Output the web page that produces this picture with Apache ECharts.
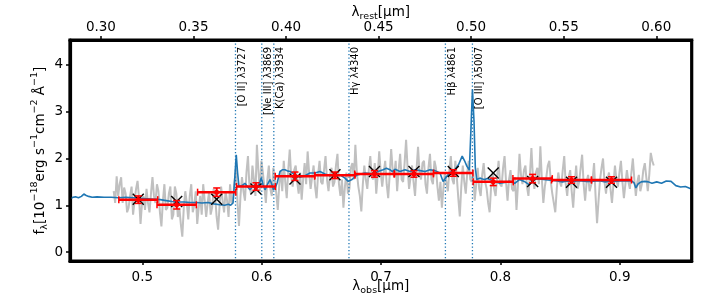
<!DOCTYPE html>
<html><head><meta charset="utf-8">
<script src="https://cdn.jsdelivr.net/npm/echarts@6/dist/echarts.min.js"></script>
<style>html,body{margin:0;padding:0;background:#fff}#c{width:706px;height:308px}</style>
</head><body><div id="c"></div>
<script>
// ---- data ----
const onePlusZ = 1.551;
const obsTicks = [0.5, 0.6, 0.7, 0.8, 0.9];
const restTicks = [0.30, 0.35, 0.40, 0.45, 0.50, 0.55, 0.60];
const fluxTicks = [0, 1, 2, 3, 4];
const obsRange = [0.4394, 0.9603];
const fluxRange = [-0.19, 4.53];

// observed (noisy) spectrum, sampled from greyStart in steps of greyStep (µm)
const greyStart = 0.476, greyStep = 0.00125;
const greyFlux = [
1.30,1.05,1.62,1.20,1.45,1.60,1.05,1.38,1.25,0.85,0.95,1.20,1.40,0.80,1.10,1.35,1.52,1.15,0.60,1.05,
1.20,0.90,1.35,1.05,0.85,1.25,1.60,1.20,1.05,1.45,1.30,0.85,0.55,1.10,1.45,0.90,0.95,1.25,1.40,0.70,
0.80,1.40,1.25,0.75,0.95,0.60,0.33,0.95,1.30,1.05,0.70,1.20,1.45,0.85,1.00,1.30,0.60,0.95,1.20,0.80,
1.45,1.10,0.75,1.05,1.30,0.80,0.95,1.35,1.20,0.75,0.48,1.00,1.40,1.10,0.85,1.30,1.10,0.75,1.45,1.05,
1.15,1.50,1.80,1.05,0.56,1.20,1.60,1.30,1.10,1.70,2.05,1.40,1.25,1.85,1.55,1.20,2.29,1.75,1.30,1.95,
1.70,1.40,1.05,1.55,1.85,1.35,1.20,1.80,1.55,1.25,0.90,1.45,1.75,1.30,1.95,1.50,1.15,1.75,2.19,1.60,
1.40,1.75,1.85,1.50,1.25,1.70,1.12,1.55,1.90,1.45,2.15,1.70,1.35,1.60,1.85,1.40,1.15,1.65,1.95,1.50,
1.45,1.75,2.05,1.55,1.30,1.65,1.80,1.40,1.50,1.85,2.10,1.45,1.20,1.55,0.95,1.40,1.70,1.25,1.35,1.80,
1.90,1.55,2.29,1.70,1.40,1.20,0.87,1.45,1.85,1.55,1.35,1.75,2.05,1.60,1.55,1.90,1.25,1.65,2.15,1.70,
1.40,1.70,1.95,1.45,1.15,1.65,2.20,1.75,1.60,1.95,1.30,1.75,2.10,1.55,1.50,1.90,2.40,1.80,1.35,1.60,
1.85,1.50,1.20,1.75,2.25,1.70,1.55,1.90,1.95,1.45,1.25,1.80,2.10,1.55,1.45,1.95,1.80,1.40,1.10,1.50,
0.95,1.35,1.70,1.50,1.30,1.75,2.05,1.55,1.45,1.95,1.60,1.15,0.76,1.40,1.85,1.50,1.25,1.70,1.95,1.55,
1.50,1.75,1.10,1.45,1.80,1.35,1.20,1.65,1.90,1.50,1.35,1.05,0.85,1.40,1.70,1.35,1.20,1.60,1.95,1.45,
1.40,1.80,2.05,1.50,1.10,1.55,1.75,1.35,1.30,1.60,0.90,1.45,2.10,1.65,1.45,1.75,1.85,1.40,1.20,1.65,
2.22,1.60,1.35,1.70,1.80,1.45,2.26,1.55,1.05,1.40,1.60,1.85,1.95,1.50,1.25,1.05,0.85,1.35,1.70,1.50,
1.40,1.75,2.05,1.45,1.20,1.60,1.75,1.30,0.95,1.45,1.85,1.35,1.50,1.80,2.08,1.45,1.10,1.50,1.65,1.30,
1.30,1.55,1.90,1.20,0.62,1.10,1.55,1.80,2.00,1.50,1.25,1.55,1.70,1.35,1.05,1.45,1.85,1.55,1.40,1.70,
1.95,1.50,1.15,1.45,1.75,1.50,1.35,1.70,2.00,1.55,1.20,1.50,1.65,1.30,1.45,1.75,1.90,1.60,1.30,1.65,2.12,1.95,1.85
];

// model spectrum (blue)
const modelWave = [0.4394,0.4420,0.4440,0.4465,0.4490,0.4510,0.4530,0.4550,0.4580,0.4620,0.4680,0.4740,0.4800,0.4860,0.4920,0.4980,0.5040,0.5100,0.5150,0.5200,0.5250,0.5300,0.5350,0.5400,0.5450,0.5500,0.5550,0.5600,0.5650,0.5690,0.5720,0.5740,0.5760,0.5775,0.5787,0.5798,0.5810,0.5835,0.5860,0.5880,0.5902,0.5925,0.5944,0.5965,0.5985,0.5997,0.6010,0.6028,0.6050,0.6070,0.6085,0.6098,0.6115,0.6130,0.6153,0.6175,0.6195,0.6220,0.6240,0.6279,0.6321,0.6363,0.6404,0.6446,0.6488,0.6530,0.6572,0.6614,0.6656,0.6698,0.6725,0.6757,0.6799,0.6866,0.6924,0.6975,0.7017,0.7045,0.7075,0.7095,0.7117,0.7159,0.7201,0.7243,0.7285,0.7327,0.7369,0.7410,0.7452,0.7494,0.7520,0.7552,0.7577,0.7619,0.7650,0.7680,0.7700,0.7720,0.7740,0.7753,0.7766,0.7779,0.7790,0.7802,0.7828,0.7850,0.7870,0.7890,0.7912,0.7953,0.7995,0.8037,0.8080,0.8120,0.8160,0.8200,0.8240,0.8280,0.8320,0.8360,0.8400,0.8440,0.8480,0.8520,0.8560,0.8600,0.8640,0.8680,0.8720,0.8760,0.8800,0.8840,0.8880,0.8920,0.8960,0.9000,0.9040,0.9080,0.9100,0.9120,0.9135,0.9155,0.9180,0.9210,0.9240,0.9270,0.9310,0.9350,0.9390,0.9430,0.9470,0.9510,0.9550,0.9590,0.9603];
const modelFlux = [1.14,1.17,1.18,1.16,1.19,1.24,1.21,1.19,1.17,1.18,1.17,1.17,1.16,1.17,1.16,1.15,1.14,1.13,1.12,1.10,1.08,1.07,1.07,1.06,1.06,1.05,1.06,1.03,1.01,1.00,1.02,1.00,1.05,1.60,2.08,1.70,1.40,1.42,1.47,1.40,1.33,1.40,1.44,1.38,1.50,1.59,1.45,1.33,1.45,1.55,1.45,1.33,1.38,1.48,1.72,1.76,1.76,1.73,1.72,1.65,1.60,1.63,1.69,1.69,1.72,1.67,1.63,1.64,1.65,1.58,1.51,1.55,1.65,1.69,1.67,1.72,1.76,1.79,1.76,1.72,1.77,1.72,1.76,1.72,1.76,1.74,1.72,1.76,1.74,1.69,1.51,1.62,1.70,1.76,1.87,2.05,1.95,1.83,1.75,2.60,3.47,2.80,1.80,1.55,1.58,1.56,1.55,1.57,1.55,1.51,1.47,1.49,1.51,1.47,1.55,1.51,1.44,1.55,1.57,1.55,1.54,1.53,1.52,1.50,1.52,1.50,1.52,1.52,1.51,1.51,1.52,1.52,1.50,1.52,1.51,1.52,1.52,1.52,1.52,1.48,1.37,1.46,1.50,1.51,1.50,1.47,1.50,1.47,1.52,1.51,1.42,1.39,1.40,1.36,1.35];

// photometry (red) and model photometry (black crosses)
const photWave = [0.4966,0.5288,0.5623,0.5952,0.6279,0.6614,0.6945,0.7276,0.7605,0.7940,0.8270,0.8596,0.8931];
const photHalfWidth = [0.0163,0.0165,0.0160,0.0163,0.0165,0.0168,0.0165,0.0163,0.0165,0.0168,0.0165,0.0167,0.0168];
const photFlux = [1.12,1.01,1.28,1.40,1.62,1.64,1.67,1.67,1.69,1.50,1.57,1.54,1.54];
const photErr = [0.08,0.09,0.09,0.08,0.09,0.07,0.07,0.07,0.07,0.08,0.09,0.07,0.07];
const modelPhot = [1.13,1.08,1.13,1.35,1.56,1.65,1.72,1.72,1.72,1.69,1.51,1.49,1.49];

// emission / absorption line markers (rest-frame Å)
const lineNames = ['[O II] λ3727','[Ne III] λ3869','K(Ca) λ3934','Hγ λ4340','Hβ λ4861','[O III] λ5007'];
const lineRest = [3727, 3869, 3934, 4340, 4861, 5007];

// ---- chart ----
const FONT = 'DejaVu Sans';
const greyData = greyFlux.map((v, i) => [greyStart + i * greyStep, v]);
const modelData = modelWave.map((w, i) => [w, modelFlux[i]]);
const photData = photWave.map((w, i) => [w, photFlux[i], photHalfWidth[i], photErr[i]]);
const crossData = photWave.map((w, i) => [w, modelPhot[i]]);
const lineData = lineRest.map((r, i) => [r * onePlusZ / 10000, i]);

const chart = echarts.init(document.getElementById('c'), null, {renderer: 'canvas'});
const tickStyle = {show: true, inside: false, length: 4, lineStyle: {color: '#000', width: 1.5}};
const nameRich = {
  n: {fontFamily: FONT, fontSize: 13.5, color: '#000', verticalAlign: 'middle', lineHeight: 20},
  s: {fontFamily: FONT, fontSize: 9.5, color: '#000', verticalAlign: 'bottom', lineHeight: 20},
  p: {fontFamily: FONT, fontSize: 9.5, color: '#000', verticalAlign: 'top', lineHeight: 20}
};
chart.setOption({
  animation: false,
  backgroundColor: '#fff',
  grid: {left: 70, right: 14.3, top: 40, bottom: 47, containLabel: false, outerBoundsMode: 'none',
         show: true, borderColor: '#000', borderWidth: 3.2, backgroundColor: 'transparent', z: 10},
  xAxis: [
    {
      type: 'value', position: 'bottom', min: obsRange[0], max: obsRange[1],
      axisLine: {show: true, onZero: false, lineStyle: {color: '#000', width: 3.2}},
      axisTick: Object.assign({customValues: obsTicks}, tickStyle),
      axisLabel: {customValues: obsTicks, color: '#000', fontFamily: FONT, fontSize: 13.5, margin: 9, formatter: v => v.toFixed(1)},
      splitLine: {show: false},
      name: '{n|λ}{s|obs}{n|[µm]}', nameLocation: 'middle', nameGap: 15, nameMoveOverlap: false,
      nameTextStyle: {rich: nameRich}
    },
    {
      type: 'value', position: 'top', min: obsRange[0] / onePlusZ, max: obsRange[1] / onePlusZ,
      axisLine: {show: true, onZero: false, lineStyle: {color: '#000', width: 3.2}},
      axisTick: Object.assign({customValues: restTicks}, tickStyle),
      axisLabel: {customValues: restTicks, color: '#000', fontFamily: FONT, fontSize: 13.5, margin: 6, formatter: v => v.toFixed(2)},
      splitLine: {show: false},
      name: '{n|λ}{s|rest}{n|[µm]}', nameLocation: 'middle', nameGap: 18, nameMoveOverlap: false,
      nameTextStyle: {rich: nameRich}
    }
  ],
  yAxis: [
    {
      type: 'value', min: fluxRange[0], max: fluxRange[1],
      axisLine: {show: true, onZero: false, lineStyle: {color: '#000', width: 3.2}},
      axisTick: Object.assign({customValues: fluxTicks}, tickStyle),
      axisLabel: {customValues: fluxTicks, color: '#000', fontFamily: FONT, fontSize: 13.5, margin: 7},
      splitLine: {show: false},
      name: '{n|f}{s|λ}{n|[10}{p|−18}{n|erg s}{p|−1}{n|cm}{p|−2}{n| Å}{p|−1}{n|]}',
      nameLocation: 'middle', nameGap: 20, nameRotate: 90, nameMoveOverlap: false,
      nameTextStyle: {rich: nameRich}
    }
  ],
  series: [
    {
      type: 'line', name: 'observed', data: greyData, xAxisIndex: 0, yAxisIndex: 0,
      showSymbol: false, symbol: 'none', z: 1,
      lineStyle: {color: '#c0c0c0', width: 2}
    },
    {
      type: 'line', name: 'model', data: modelData, xAxisIndex: 0, yAxisIndex: 0,
      showSymbol: false, symbol: 'none', z: 2, clip: true,
      lineStyle: {color: '#1f77b4', width: 1.6}
    },
    {
      type: 'custom', name: 'lines', data: lineData, xAxisIndex: 0, yAxisIndex: 0, z: 3,
      encode: {x: 0, y: 1},
      renderItem: function (params, api) {
        const x = api.value(0);
        const idx = api.value(1);
        const top = api.coord([x, fluxRange[1]]);
        const bot = api.coord([x, fluxRange[0]]);
        return {
          type: 'group',
          children: [
            {type: 'line', shape: {x1: top[0], y1: top[1], x2: bot[0], y2: bot[1]},
             style: {stroke: '#1f77b4', lineWidth: 1.3, lineDash: [1.3, 2.2]}},
            {type: 'text', x: top[0] + 1.5, y: top[1] + 7, rotation: Math.PI / 2,
             style: {text: lineNames[idx], fill: '#000', font: '10px "DejaVu Sans"', align: 'right', verticalAlign: 'top'}}
          ]
        };
      }
    },
    {
      type: 'custom', name: 'model phot', data: crossData, xAxisIndex: 0, yAxisIndex: 0, z: 4,
      encode: {x: 0, y: 1},
      renderItem: function (params, api) {
        const p = api.coord([api.value(0), api.value(1)]);
        const h = 5.5;
        const st = {stroke: '#000', lineWidth: 1.4};
        return {type: 'group', children: [
          {type: 'line', shape: {x1: p[0] - h, y1: p[1] - h, x2: p[0] + h, y2: p[1] + h}, style: st},
          {type: 'line', shape: {x1: p[0] - h, y1: p[1] + h, x2: p[0] + h, y2: p[1] - h}, style: st}
        ]};
      }
    },
    {
      type: 'custom', name: 'photometry', data: photData, xAxisIndex: 0, yAxisIndex: 0, z: 5,
      encode: {x: 0, y: 1},
      renderItem: function (params, api) {
        const x = api.value(0), y = api.value(1), hw = api.value(2), e = api.value(3);
        const c = api.coord([x, y]);
        const l = api.coord([x - hw, y]);
        const r = api.coord([x + hw, y]);
        const t = api.coord([x, y + e]);
        const b = api.coord([x, y - e]);
        const red = '#ff0000';
        const cap = 3.5, ecap = 3.5;
        return {type: 'group', children: [
          {type: 'line', shape: {x1: l[0], y1: l[1], x2: r[0], y2: r[1]}, style: {stroke: red, lineWidth: 2.5}},
          {type: 'line', shape: {x1: l[0], y1: l[1] - cap, x2: l[0], y2: l[1] + cap}, style: {stroke: red, lineWidth: 1.5}},
          {type: 'line', shape: {x1: r[0], y1: r[1] - cap, x2: r[0], y2: r[1] + cap}, style: {stroke: red, lineWidth: 1.5}},
          {type: 'line', shape: {x1: t[0], y1: t[1], x2: b[0], y2: b[1]}, style: {stroke: red, lineWidth: 2}},
          {type: 'line', shape: {x1: t[0] - ecap, y1: t[1], x2: t[0] + ecap, y2: t[1]}, style: {stroke: red, lineWidth: 1.5}},
          {type: 'line', shape: {x1: b[0] - ecap, y1: b[1], x2: b[0] + ecap, y2: b[1]}, style: {stroke: red, lineWidth: 1.5}},
          {type: 'circle', shape: {cx: c[0], cy: c[1], r: 2.5}, style: {fill: red}}
        ]};
      }
    }
  ]
});
</script>
</body></html>
